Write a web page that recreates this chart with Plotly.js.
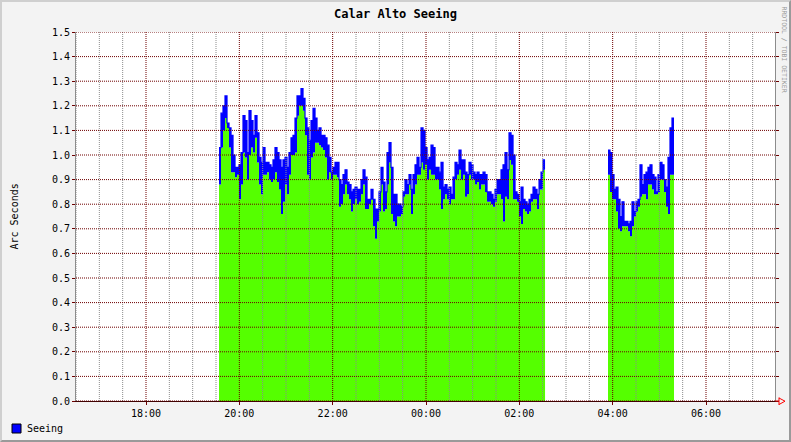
<!DOCTYPE html>
<html><head><meta charset="utf-8">
<script src="https://cdn.plot.ly/plotly-3.0.1.min.js"></script>
<style>
html,body{margin:0;padding:0;background:#f3f3f3;}
#wrap{position:relative;width:791px;height:442px;}
#chart{width:791px;height:442px;}
#frame{position:absolute;left:0;top:0;width:791px;height:442px;box-sizing:border-box;border-top:2px solid #cfcfcf;border-left:2px solid #cfcfcf;border-right:2px solid #9a9a9a;border-bottom:2px solid #9a9a9a;pointer-events:none;}
</style></head><body>
<div id="wrap"><div id="chart"></div><div id="frame"></div></div>
<script>
// ---- data ----
const chartTitle = 'Calar Alto Seeing';
const yTitle = 'Arc Seconds';
const seriesName = 'Seeing';
const yTicks = [0,0.1,0.2,0.3,0.4,0.5,0.6,0.7,0.8,0.9,1.0,1.1,1.2,1.3,1.4,1.5];
const xMajorLabels = ['18:00','20:00','22:00','00:00','02:00','04:00','06:00'];
const sampleStepSec = 154.3;            // sampling interval of the series
const seg1StartClock = '19:33:52';       // first night segment start
const seg2StartClock = '03:54:00';       // second segment start (next day)
const viewStartClock = '16:30:00';
const viewEndClock = '07:28:43';

// segment 1 upper envelope (blue) and lower envelope (green)
const seg1High = [1.03,1.17,1.20,1.24,1.13,1.11,1.08,1.00,0.95,0.95,0.96,1.01,1.16,1.14,1.01,1.18,1.14,1.08,1.16,1.09,
 0.99,0.97,1.03,0.97,0.97,0.96,0.95,0.98,1.03,1.01,0.98,0.95,0.98,0.99,0.95,1.01,1.07,1.08,1.15,1.24,
 1.24,1.27,1.23,1.15,1.11,1.06,1.14,1.19,1.15,1.10,1.11,1.08,1.08,
 1.07,1.04,0.99,0.93,0.95,0.97,0.97,0.90,0.88,0.92,0.94,0.89,0.88,0.85,0.86,0.87,0.86,0.86,0.90,0.94,
 0.91,0.82,0.82,0.86,0.82,0.78,0.78,0.85,0.95,0.89,0.85,1.01,1.05,0.95,0.84,0.84,0.80,0.80,0.79,0.85,
 0.90,0.88,0.92,0.86,0.92,0.96,0.99,0.95,1.11,1.10,1.03,0.98,0.99,1.04,1.03,
 0.95,0.95,0.93,0.97,0.87,0.88,0.86,0.87,0.84,0.91,0.97,0.96,1.02,0.98,0.98,0.93,0.92,0.97,0.96,0.93,
 0.92,0.93,0.92,0.92,0.93,0.92,0.85,0.85,0.84,0.82,0.86,0.90,0.90,0.94,0.96,1.01,0.94,1.09,1.08,1.00,
 0.85,0.84,0.81,0.87,0.82,0.81,0.80,0.82,0.84,0.87,0.86,0.84,0.90,0.93,0.98];
const seg1Low = [0.88,1.03,1.10,1.15,1.11,1.03,0.93,0.93,0.91,0.92,0.82,0.88,1.01,0.99,0.90,1.00,1.03,1.01,1.07,0.97,
 0.88,0.84,0.92,0.92,0.93,0.90,0.89,0.90,0.93,0.89,0.86,0.76,0.81,0.88,0.84,0.92,1.00,1.00,1.01,1.16,
 1.20,1.20,1.18,1.08,0.92,0.90,0.99,1.01,1.05,1.05,1.04,1.03,1.02,
 0.99,0.90,0.93,0.90,0.92,0.92,0.91,0.79,0.80,0.84,0.88,0.84,0.82,0.77,0.80,0.82,0.80,0.81,0.84,0.88,
 0.78,0.78,0.80,0.82,0.71,0.66,0.73,0.77,0.88,0.77,0.78,0.88,0.97,0.76,0.73,0.71,0.75,0.75,0.76,0.83,
 0.84,0.84,0.88,0.76,0.84,0.88,0.92,0.92,0.97,0.94,0.96,0.90,0.94,0.92,0.92,
 0.90,0.90,0.86,0.78,0.82,0.84,0.82,0.80,0.82,0.82,0.90,0.92,0.94,0.90,0.92,0.83,0.84,0.92,0.90,0.90,
 0.88,0.89,0.86,0.88,0.88,0.85,0.81,0.81,0.80,0.79,0.81,0.84,0.84,0.82,0.73,0.83,0.82,0.98,0.96,0.82,
 0.82,0.81,0.75,0.72,0.78,0.77,0.76,0.77,0.81,0.82,0.82,0.78,0.86,0.86,0.94];

// segment 2
const seg2High = [1.02,1.01,0.92,0.86,0.87,0.82,0.75,0.81,0.73,0.73,0.72,0.73,0.81,0.77,0.81,0.82,0.96,0.88,0.92,0.93,
 0.95,0.96,0.92,0.91,0.85,0.92,0.97,0.96,0.90,0.87,0.99,1.11,1.15];
const seg2Low = [0.92,0.85,0.82,0.82,0.77,0.70,0.69,0.71,0.71,0.71,0.69,0.67,0.71,0.75,0.77,0.79,0.83,0.84,0.84,0.82,
 0.88,0.88,0.86,0.84,0.84,0.85,0.90,0.90,0.85,0.79,0.76,0.92,0.92];

// ---- helpers ----
const DAY0 = Date.UTC(2008,0,1);
function clockMs(c, nextDay){
  const p = c.split(':').map(Number);
  return DAY0 + (nextDay?86400000:0) + ((p[0]*60 + p[1])*60 + (p[2]||0))*1000;
}
function timesFor(start, n){
  const out=[]; for(let i=0;i<=n;i++) out.push(start + i*sampleStepSec*1000); return out;
}
function ext(a){ return a.concat([a[a.length-1]]); }

const GREEN = '#55ff00', BLUE = '#0000ff';
const t1 = timesFor(clockMs(seg1StartClock,false), seg1High.length);
const t2 = timesFor(clockMs(seg2StartClock,true), seg2High.length);

function pair(t, lo, hi){
  return [
    {x:t, y:ext(lo), type:'scatter', mode:'lines', line:{width:0, shape:'hv', color:GREEN},
     fill:'tozeroy', fillcolor:GREEN, showlegend:false, hoverinfo:'skip'},
    {x:t, y:ext(hi), type:'scatter', mode:'lines', name:seriesName, line:{width:1.2, shape:'hv', color:BLUE},
     fill:'tonexty', fillcolor:BLUE, showlegend:false}
  ];
}
const traces = pair(t1, seg1Low, seg1High).concat(pair(t2, seg2Low, seg2High));

// axis positions
const xStart = clockMs(viewStartClock,false), xEnd = clockMs(viewEndClock,true);
const majorVals = xMajorLabels.map(l => { const h=+l.split(':')[0]; return clockMs(l, h<12); });
const minorVals = []; for(let t=xStart; t<=xEnd; t+=1800000) minorVals.push(t);

const DARKRED = '#6e0000', MINOR = '#8c8c8c', DOT='1px,1px';
const shapes = [];
minorVals.forEach(v => { if(!majorVals.includes(v)) shapes.push({type:'line', layer:'above', xref:'x', yref:'paper', x0:v, x1:v, y0:0, y1:1, line:{color:MINOR, width:1, dash:DOT}}); });
yTicks.forEach(v => shapes.push({type:'line', layer:'above', xref:'paper', yref:'y', x0:0, x1:1, y0:v, y1:v, line:{color:DARKRED, width:1, dash:DOT}}));
majorVals.forEach(v => shapes.push({type:'line', layer:'above', xref:'x', yref:'paper', x0:v, x1:v, y0:0, y1:1, line:{color:DARKRED, width:1, dash:DOT}}));

// pixel -> paper helpers for decorations outside the plot area
const L=76, R=775, T=32, B=401;
const px = p => (p-L)/(R-L), py = p => (B-p)/(B-T);
// x-axis arrow
shapes.push({type:'line', layer:'above', xref:'paper', yref:'paper', x0:1, x1:px(779), y0:0, y1:0, line:{color:'#cc0000', width:1}});
shapes.push({type:'path', layer:'above', xref:'paper', yref:'paper',
  path:`M ${px(779)} ${py(397.5)} L ${px(779)} ${py(405)} M ${px(779)} ${py(398)} L ${px(785)} ${py(401.2)} L ${px(779)} ${py(404.5)}`,
  line:{color:'#ff0000', width:1}});
// legend box
shapes.push({type:'rect', xref:'paper', yref:'paper', x0:px(12), x1:px(21), y0:py(433), y1:py(424), fillcolor:BLUE, line:{color:'#000', width:1}});

const MONO = '"DejaVu Sans Mono", "Liberation Mono", monospace';
const layout = {
  width:791, height:442,
  margin:{l:L, r:791-R, t:T, b:442-B, pad:0},
  paper_bgcolor:'#f3f3f3', plot_bgcolor:'#ffffff',
  showlegend:false,
  title:{text:'<b>'+chartTitle+'</b>', x:0.5, xanchor:'center', y:1-14/442, yanchor:'middle', font:{family:MONO, size:12, color:'#000'}},
  xaxis:{type:'date', range:[xStart, xEnd], tickvals:majorVals, tickformat:'%H:%M',
    ticks:'outside', ticklen:3, tickcolor:DARKRED, showgrid:false, zeroline:false,
    showline:true, linecolor:'#400000', linewidth:1, layer:'above traces',
    tickfont:{family:MONO, size:10, color:'#000'}, fixedrange:true},
  yaxis:{range:[0,1.5], tickvals:yTicks, tickformat:'.1f', ticks:'outside', ticklen:3, tickcolor:DARKRED,
    showgrid:false, zeroline:false, showline:true, linecolor:'#8c8c8c', mirror:'ticks', layer:'above traces',
    tickfont:{family:MONO, size:10, color:'#000'}, fixedrange:true},
  shapes:shapes,
  annotations:[
    {text:yTitle, xref:'paper', yref:'paper', x:px(14), y:0.5, textangle:-90, showarrow:false,
     xanchor:'center', yanchor:'middle', font:{family:MONO, size:10, color:'#000'}},
    {text:seriesName, xref:'paper', yref:'paper', x:px(25), y:py(428.5), showarrow:false,
     xanchor:'left', yanchor:'middle', font:{family:MONO, size:10, color:'#000'}},
    {text:'RRDTOOL / TOBI OETIKER', xref:'paper', yref:'paper', x:px(783.5), y:py(49), textangle:90, showarrow:false,
     xanchor:'center', yanchor:'middle', font:{family:MONO, size:6.5, color:'#999'}}
  ]
};
Plotly.newPlot('chart', traces, layout, {staticPlot:true, displayModeBar:false});
</script>
</body></html>
